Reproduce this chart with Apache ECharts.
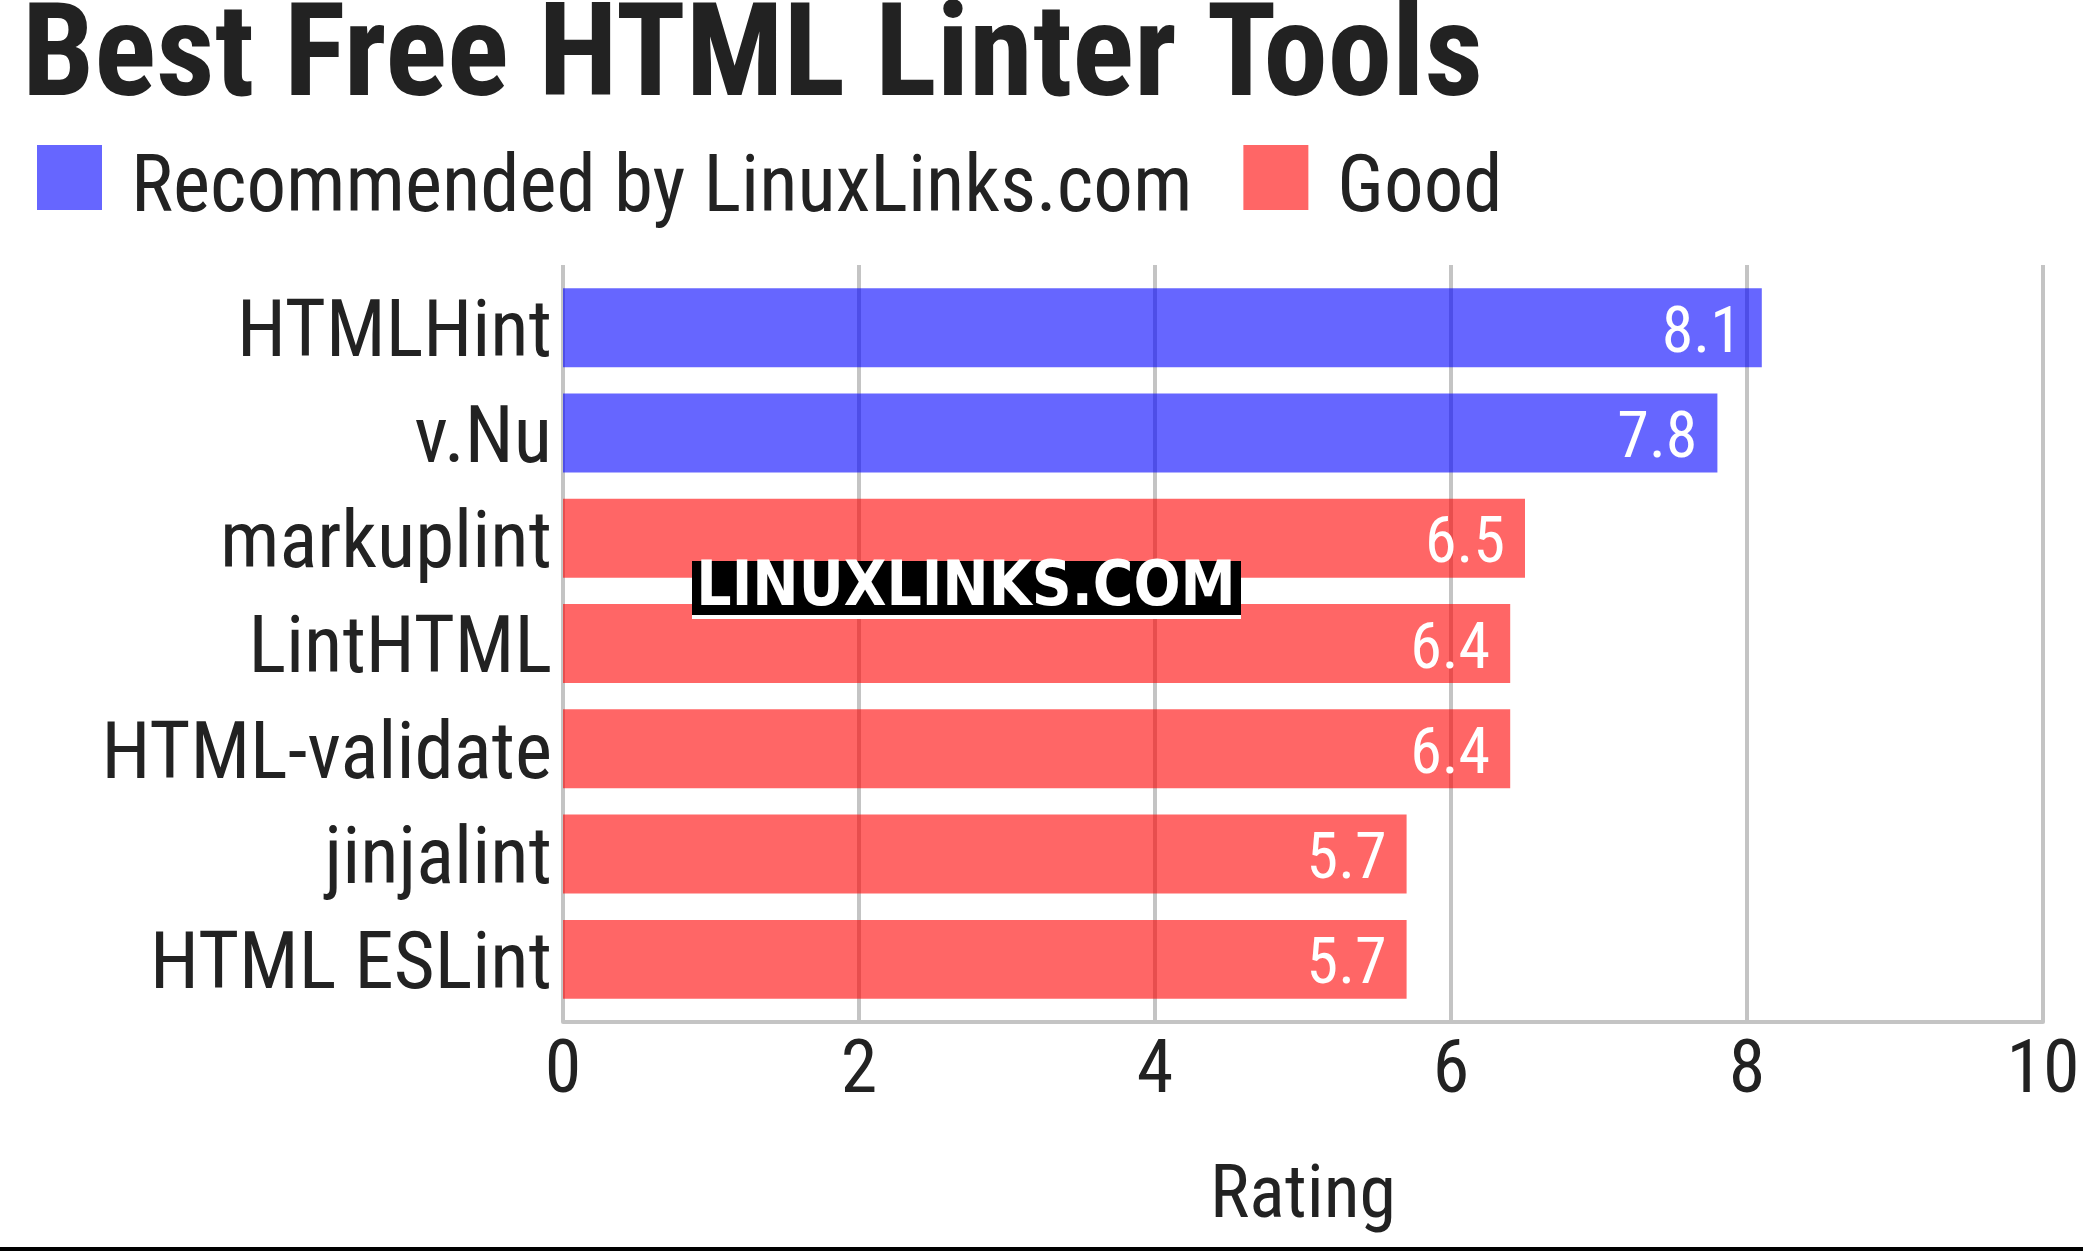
<!DOCTYPE html>
<html>
<head>
<meta charset="utf-8">
<script src="https://cdn.jsdelivr.net/npm/echarts@6/dist/echarts.min.js"></script>
<style>
  html, body { margin: 0; padding: 0; background: #fff; }
  #chart { width: 2083px; height: 1251px; }
</style>
</head>
<body>
<div id="chart"></div>
<script>
// data
const tools = ['HTMLHint', 'v.Nu', 'markuplint', 'LintHTML', 'HTML-validate', 'jinjalint', 'HTML ESLint']
const recommended = [8.1, 7.8, null, null, null, null, null]
const good = [null, null, 6.5, 6.4, 6.4, 5.7, 5.7]
const ratingTicks = [0, 2, 4, 6, 8, 10]

const FONT = '"Roboto Condensed", "Liberation Sans Narrow", "DejaVu Sans Condensed", Roboto, sans-serif'
// bars are see-through, so the gridlines show darker behind them
const BLUE = 'rgba(0,0,255,0.6)'
const RED = 'rgba(255,0,0,0.6)'
const INK = '#222222'

let chart = echarts.init(document.getElementById('chart'))

let barLabel = {
  show: true,
  position: 'insideRight',
  distance: 20,
  offset: [0, 8],
  color: '#fff',
  fontFamily: FONT,
  fontSize: 64,
  formatter: p => p.value.toFixed(1)
}

let option = {
  animation: false,
  title: {
    text: 'Best Free HTML Linter Tools',
    left: 17,
    top: -7,
    textStyle: { fontFamily: FONT, fontWeight: 'bold', fontSize: 129, color: INK }
  },
  legend: {
    left: 32,
    top: 140,
    itemWidth: 65,
    itemHeight: 65,
    itemGap: 51,
    icon: 'rect',
    formatter: name => '{t|' + name + '}',
    textStyle: {
      rich: { t: { fontFamily: FONT, fontSize: 79, color: INK, padding: [28, 0, 0, 24] } }
    },
    data: ['Recommended by LinuxLinks.com', 'Good']
  },
  grid: [
    // bars
    { left: 563, right: 40, top: 275, bottom: 239 },
    // gridlines + value axis
    { left: 563, right: 40, top: 265, bottom: 229 }
  ],
  xAxis: [
    { gridIndex: 0, type: 'value', min: 0, max: 10, interval: 2, show: false },
    {
      gridIndex: 1, type: 'value', min: ratingTicks[0], max: ratingTicks[ratingTicks.length - 1], interval: 2,
      name: 'Rating',
      nameLocation: 'middle',
      nameGap: 139,
      nameTextStyle: { fontFamily: FONT, fontSize: 74, color: INK, verticalAlign: 'top' },
      axisLine: { show: true, lineStyle: { color: '#c4c4c4', width: 4 } },
      axisTick: { show: false },
      axisLabel: { fontFamily: FONT, fontSize: 74, color: INK, margin: 14 },
      splitLine: { show: true, lineStyle: { color: '#c4c4c4', width: 4 } }
    }
  ],
  yAxis: [
    {
      gridIndex: 0, type: 'category', data: tools, inverse: true,
      axisLine: { show: false },
      axisTick: { show: false },
      axisLabel: {
        margin: 11,
        formatter: v => '{c|' + v + '}',
        rich: { c: { fontFamily: FONT, fontSize: 79, color: INK, padding: [18, 0, 0, 0] } }
      }
    },
    { gridIndex: 1, type: 'value', show: false }
  ],
  series: [
    {
      name: 'Recommended by LinuxLinks.com',
      type: 'bar',
      xAxisIndex: 0, yAxisIndex: 0,
      data: recommended,
      itemStyle: { color: BLUE },
      barCategoryGap: '25%',
      barGap: '-100%',
      label: barLabel
    },
    {
      name: 'Good',
      type: 'bar',
      xAxisIndex: 0, yAxisIndex: 0,
      data: good,
      itemStyle: { color: RED },
      barCategoryGap: '25%',
      barGap: '-100%',
      label: barLabel
    }
  ],
  graphic: [
    { type: 'rect', z: 100, shape: { x: 692, y: 561, width: 549, height: 54 }, style: { fill: '#000' } },
    { type: 'rect', z: 100, shape: { x: 692, y: 615, width: 549, height: 4 }, style: { fill: '#fff' } },
    {
      type: 'text', z: 101, x: 966, y: 589, scaleX: 0.88,
      style: {
        text: 'LINUXLINKS.COM', fill: '#fff', align: 'center', verticalAlign: 'middle',
        font: 'bold 63px "DejaVu Sans", sans-serif'
      }
    },
    // rule along the bottom edge
    { type: 'rect', z: 100, shape: { x: 0, y: 1247, width: 2083, height: 4 }, style: { fill: '#000' } }
  ]
}

chart.setOption(option)
</script>
</body>
</html>
